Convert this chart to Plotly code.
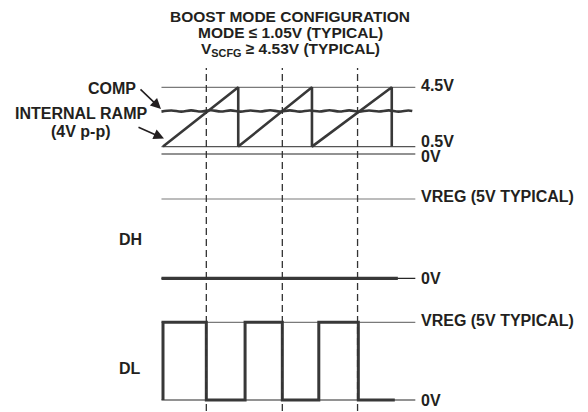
import plotly.graph_objects as go

W, H = 588, 412

# ---------------- data (time in switching periods, levels in volts) ----------------
ramp_t = [0.0, 0.99, 0.99, 1.96, 1.96, 3.01, 3.01]
ramp_v = [0.5, 4.5, 0.5, 4.5, 0.5, 4.5, 0.5]

comp_t = [-0.02, 0.11, 0.24, 0.37, 0.50, 0.63, 0.76, 0.89, 1.02, 1.15, 1.28, 1.41,
          1.54, 1.67, 1.80, 1.93, 2.06, 2.19, 2.32, 2.45, 2.58, 2.71, 2.84, 2.97,
          3.10, 3.23, 3.28]
comp_v = [2.86, 2.93, 2.86, 2.94, 2.87, 2.95, 2.87, 2.94, 2.86, 2.93, 2.87, 2.95,
          2.87, 2.94, 2.86, 2.93, 2.87, 2.95, 2.87, 2.94, 2.86, 2.93, 2.87, 2.94,
          2.86, 2.93, 2.90]

crossing_t = [0.57, 1.57, 2.56]          # COMP = ramp instants (dashed markers)
ref_span = [-0.02, 3.32]                 # extent of the level reference lines

ramp_levels = [4.5, 0.5, 0.0]
ramp_level_labels = ["4.5V", "0.5V", "0V"]

dh_t = [-0.02, 3.09]
dh_v = [0.0, 0.0]
dh_levels = [5.0, 0.0]
dh_level_labels = ["VREG (5V TYPICAL)", "0V"]

dl_t = [0.0, 0.0, 0.57, 1.08, 1.57, 2.05, 2.57, 3.05]
dl_v = [0.0, 5.0, 0.0, 5.0, 0.0, 5.0, 0.0, 0.0]
dl_levels = [5.0, 0.0]
dl_level_labels = ["VREG (5V TYPICAL)", "0V"]

title_lines = ["BOOST MODE CONFIGURATION",
               "MODE \u2264 1.05V (TYPICAL)",
               "V<sub>SCFG</sub> \u2265 4.53V (TYPICAL)"]

# ---------------- layout helpers ----------------
X0_PX, PX_PER_T = 163.0, 76.0
x_range = [(0 - X0_PX) / PX_PER_T, (W - X0_PX) / PX_PER_T]


def y_range(v_hi, py_hi, v_lo, py_lo):
    s = (py_lo - py_hi) / (v_hi - v_lo)
    top = v_hi + py_hi / s
    return [top - H / s, top]


def px(x):
    return x / W


def py(y):
    return 1 - y / H


FAMILY = "Liberation Sans, Arial, Helvetica, sans-serif"
FONT = dict(family=FAMILY, size=16, color="#231f20", weight="bold")
TFONT = dict(family=FAMILY, size=15.5, color="#231f20", weight="bold")
WAVE = "#383838"
GRAY = "#7a7a7a"
DARK = "#262626"

fig = go.Figure()


def hline(levels, yaxis, colors):
    for lv, c in zip(levels, colors):
        fig.add_trace(go.Scatter(x=ref_span, y=[lv, lv], yaxis=yaxis, mode="lines",
                                 line=dict(color=c, width=1.2), hoverinfo="skip"))


# ramp panel
hline(ramp_levels, "y", [GRAY, "#555555", DARK])
fig.add_trace(go.Scatter(x=comp_t, y=comp_v, yaxis="y", mode="lines",
                         line=dict(color=WAVE, width=2.6, shape="spline"), hoverinfo="skip"))
fig.add_trace(go.Scatter(x=ramp_t, y=ramp_v, yaxis="y", mode="lines",
                         line=dict(color=WAVE, width=2.6), hoverinfo="skip"))
# DH panel
hline(dh_levels, "y2", [GRAY, DARK])
fig.add_trace(go.Scatter(x=dh_t, y=dh_v, yaxis="y2", mode="lines",
                         line=dict(color=WAVE, width=3.2), hoverinfo="skip"))
# DL panel
hline(dl_levels, "y3", [GRAY, DARK])
fig.add_trace(go.Scatter(x=dl_t, y=dl_v, yaxis="y3", mode="lines",
                         line=dict(color=WAVE, width=3.0, shape="hv"), hoverinfo="skip"))

# dashed crossing markers
for t in crossing_t:
    fig.add_shape(type="line", xref="x", yref="paper", x0=t, x1=t,
                  y0=py(411), y1=py(68),
                  line=dict(color="#333333", width=1.3, dash="7px,4px"))

ann = []
# right-hand level labels
label_shift = {("y", 0): 1.5, ("y", 1): 5.0, ("y", 2): -2.5,
               ("y2", 0): 2.3, ("y2", 1): 0.0, ("y3", 0): 2.3, ("y3", 1): 0.0}
for ax, levels, labels in [("y", ramp_levels, ramp_level_labels),
                           ("y2", dh_levels, dh_level_labels),
                           ("y3", dl_levels, dl_level_labels)]:
    for i, (lv, lb) in enumerate(zip(levels, labels)):
        ann.append(dict(x=ref_span[1], y=lv, xref="x", yref=ax, text=lb,
                        showarrow=False, xanchor="left", yanchor="middle",
                        xshift=4, yshift=label_shift[(ax, i)], font=FONT))

# title
for txt, y in zip(title_lines, [17, 33, 49]):
    ann.append(dict(x=px(290), y=py(y), xref="paper", yref="paper", text=txt,
                    showarrow=False, xanchor="center", yanchor="middle", font=TFONT))

# left labels
ann.append(dict(x=px(138), y=py(88), xref="paper", yref="paper", text="COMP",
                showarrow=False, xanchor="right", yanchor="middle", font=FONT))
ann.append(dict(x=px(81), y=py(113), xref="paper", yref="paper", text="INTERNAL RAMP",
                showarrow=False, xanchor="center", yanchor="middle", font=FONT))
ann.append(dict(x=px(81), y=py(131.5), xref="paper", yref="paper", text="(4V p-p)",
                showarrow=False, xanchor="center", yanchor="middle", font=FONT))
ann.append(dict(x=px(130), y=py(240), xref="paper", yref="paper", text="DH",
                showarrow=False, xanchor="center", yanchor="middle", font=FONT))
ann.append(dict(x=px(130), y=py(368), xref="paper", yref="paper", text="DL",
                showarrow=False, xanchor="center", yanchor="middle", font=FONT))

# arrows
ann.append(dict(x=px(161), y=py(109), xref="paper", yref="paper", text="",
                showarrow=True, ax=-22, ay=-21, arrowhead=2, arrowsize=1.3,
                arrowwidth=1.6, arrowcolor="#231f20"))
ann.append(dict(x=px(164), y=py(138.5), xref="paper", yref="paper", text="",
                showarrow=True, ax=-27, ay=-12, arrowhead=2, arrowsize=1.3,
                arrowwidth=1.6, arrowcolor="#231f20"))

hidden = dict(visible=False, showgrid=False, zeroline=False, fixedrange=True)
fig.update_layout(
    width=W, height=H, autosize=False,
    margin=dict(l=0, r=0, t=0, b=0, pad=0),
    paper_bgcolor="white", plot_bgcolor="white",
    showlegend=False,
    xaxis=dict(range=x_range, **hidden),
    yaxis=dict(range=y_range(4.5, 87.3, 0.0, 154.0), **hidden),
    yaxis2=dict(range=y_range(5.0, 199.0, 0.0, 278.3), overlaying="y", **hidden),
    yaxis3=dict(range=y_range(5.0, 322.3, 0.0, 400.0), overlaying="y", **hidden),
    annotations=ann,
)

fig.write_html("out.html", config={"displayModeBar": False},
               post_script="document.body.style.margin='0';"
                           "document.body.style.overflow='hidden';")
